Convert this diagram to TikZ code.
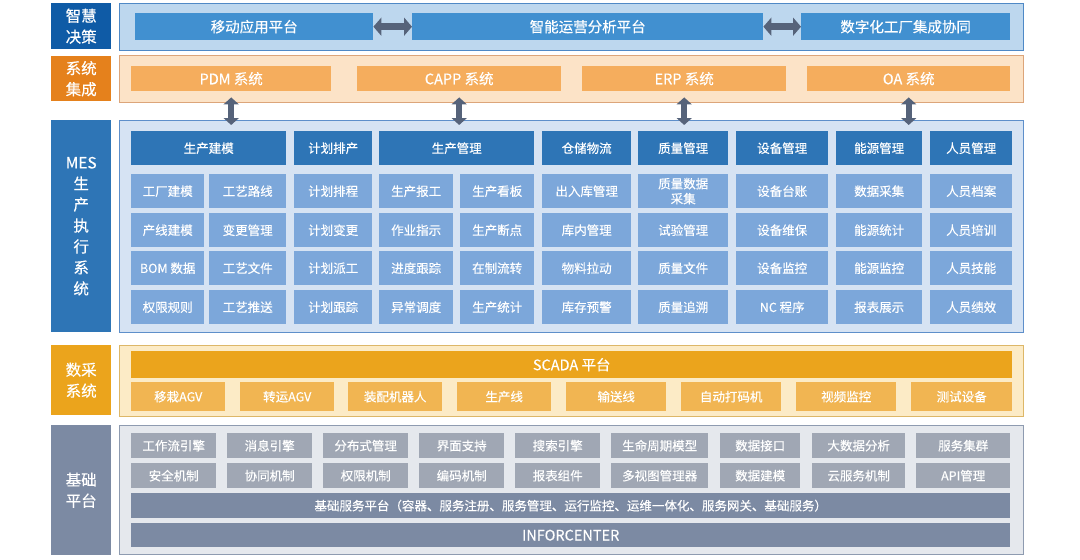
\documentclass[tikz,border=0pt]{standalone}
\usepackage{fontspec}
\setmainfont{Noto Sans CJK SC}[FakeBold=0.35]
\usepackage{tikz}
\usetikzlibrary{arrows.meta}

\definecolor{zhBlue}{HTML}{0F5BA6}
\definecolor{zhPanel}{HTML}{BDD7EE}
\definecolor{zhLine}{HTML}{4F89C6}
\definecolor{zhBox}{HTML}{4190D0}
\definecolor{jcOrange}{HTML}{E5811C}
\definecolor{jcPanel}{HTML}{FCE3C7}
\definecolor{jcLine}{HTML}{DCA57A}
\definecolor{jcBox}{HTML}{F5AD5D}
\definecolor{mesBlue}{HTML}{2E75B6}
\definecolor{mesPanel}{HTML}{D6E3F3}
\definecolor{mesLine}{HTML}{5E8FCA}
\definecolor{mesCell}{HTML}{7CA7DA}
\definecolor{scAmber}{HTML}{EBA41C}
\definecolor{scPanel}{HTML}{FCEBC6}
\definecolor{scLine}{HTML}{DDB768}
\definecolor{scBox}{HTML}{F1B552}
\definecolor{baseGray}{HTML}{7C8AA3}
\definecolor{basePanel}{HTML}{E5E8ED}
\definecolor{baseLine}{HTML}{8E9BB0}
\definecolor{baseCell}{HTML}{A0A7B4}
\definecolor{arrowGray}{HTML}{56637A}

\begin{document}
\begin{tikzpicture}[x=1pt, y=-1pt,
    sz/.style 2 args={anchor=north west, minimum width=#1pt, minimum height=#2pt},
    side/.style={text=white, inner sep=0pt, align=center, font=\fontsize{15.5}{21}\selectfont},
    panel/.style={line width=1.2pt, inner sep=0pt},
    bigbox/.style={text=white, inner sep=0pt, font=\fontsize{14.5}{17}\selectfont},
    cell/.style={text=white, inner sep=0pt, align=center, font=\fontsize{12.5}{15}\selectfont},
    dbl/.style={arrowGray, line width=7pt, >={Triangle[width=18pt,length=8pt]}, <->},
    vdbl/.style={arrowGray, line width=6pt, >={Triangle[width=15pt,length=7pt]}, <->, shorten <=6pt, shorten >=-5pt}]
    \useasboundingbox (0,0) rectangle (1080,560);

    % layer labels
    \node[side, sz={60}{46}, fill=zhBlue] (lzh) at (51,3) {智慧\\决策};
    \node[side, sz={60}{45}, fill=jcOrange] (ljc) at (51,56) {系统\\集成};
    \node[side, sz={60}{212}, fill=mesBlue] (lmes) at (51,120) {MES\\生\\产\\执\\行\\系\\统};
    \node[side, sz={60}{70}, fill=scAmber] (lsc) at (51,345) {数采\\系统};
    \node[side, sz={60}{130}, fill=baseGray] (lbase) at (51,425) {基础\\平台};

    % layer panels
    \node[panel, sz={904}{47}, fill=zhPanel, draw=zhLine] (pzh) at (119,3) {};
    \node[panel, sz={904}{47}, fill=jcPanel, draw=jcLine] (pjc) at (119,55) {};
    \node[panel, sz={904}{212}, fill=mesPanel, draw=mesLine] (pmes) at (119,120) {};
    \node[panel, sz={904}{71}, fill=scPanel, draw=scLine] (psc) at (119,345) {};
    \node[panel, sz={904}{129}, fill=basePanel, draw=baseLine] (pbase) at (119,425) {};

    % decision layer
    \node[bigbox, sz={238}{27}, fill=zhBox] (mobile) at (135,13) {移动应用平台};
    \node[bigbox, sz={351}{27}, fill=zhBox] (analysis) at (412,13) {智能运营分析平台};
    \node[bigbox, sz={209}{27}, fill=zhBox] (factory) at (801,13) {数字化工厂集成协同};
    \draw[dbl] (mobile) -- (analysis);
    \draw[dbl] (analysis) -- (factory);

    % integration layer
    \node[bigbox, sz={200}{25}, fill=jcBox] (pdm) at (131,66) {PDM 系统};
    \node[bigbox, sz={204}{25}, fill=jcBox] (capp) at (357,66) {CAPP 系统};
    \node[bigbox, sz={204}{25}, fill=jcBox] (erp) at (582,66) {ERP 系统};
    \node[bigbox, sz={203}{25}, fill=jcBox] (oa) at (807,66) {OA 系统};
    \draw[vdbl] (pdm) -- (pdm |- pmes.north);
    \draw[vdbl] (capp) -- (capp |- pmes.north);
    \draw[vdbl] (erp) -- (erp |- pmes.north);
    \draw[vdbl] (oa) -- (oa |- pmes.north);

    % MES headers
    \node[cell, sz={155}{34}, fill=mesBlue] (hmodel) at (131,131) {生产建模};
    \node[cell, sz={78}{34}, fill=mesBlue] (hplan) at (294,131) {计划排产};
    \node[cell, sz={155}{34}, fill=mesBlue] (hprod) at (379,131) {生产管理};
    \node[cell, sz={89}{34}, fill=mesBlue] (hware) at (542,131) {仓储物流};
    \node[cell, sz={90}{34}, fill=mesBlue] (hqual) at (638,131) {质量管理};
    \node[cell, sz={92}{34}, fill=mesBlue] (hequip) at (736,131) {设备管理};
    \node[cell, sz={86}{34}, fill=mesBlue] (henergy) at (836,131) {能源管理};
    \node[cell, sz={82}{34}, fill=mesBlue] (hstaff) at (930,131) {人员管理};

    % MES row 1
    \node[cell, sz={73}{34}, fill=mesCell] (m11) at (131,174) {工厂建模};
    \node[cell, sz={77}{34}, fill=mesCell] (m12) at (209,174) {工艺路线};
    \node[cell, sz={78}{34}, fill=mesCell] (m13) at (294,174) {计划排程};
    \node[cell, sz={74}{34}, fill=mesCell] (m14) at (379,174) {生产报工};
    \node[cell, sz={74}{34}, fill=mesCell] (m15) at (460,174) {生产看板};
    \node[cell, sz={89}{34}, fill=mesCell] (m16) at (542,174) {出入库管理};
    \node[cell, sz={90}{34}, fill=mesCell] (m17) at (638,174) {质量数据\\采集};
    \node[cell, sz={92}{34}, fill=mesCell] (m18) at (736,174) {设备台账};
    \node[cell, sz={86}{34}, fill=mesCell] (m19) at (836,174) {数据采集};
    \node[cell, sz={82}{34}, fill=mesCell] (m110) at (930,174) {人员档案};
    % MES row 2
    \node[cell, sz={73}{34}, fill=mesCell] (m21) at (131,213) {产线建模};
    \node[cell, sz={77}{34}, fill=mesCell] (m22) at (209,213) {变更管理};
    \node[cell, sz={78}{34}, fill=mesCell] (m23) at (294,213) {计划变更};
    \node[cell, sz={74}{34}, fill=mesCell] (m24) at (379,213) {作业指示};
    \node[cell, sz={74}{34}, fill=mesCell] (m25) at (460,213) {生产断点};
    \node[cell, sz={89}{34}, fill=mesCell] (m26) at (542,213) {库内管理};
    \node[cell, sz={90}{34}, fill=mesCell] (m27) at (638,213) {试验管理};
    \node[cell, sz={92}{34}, fill=mesCell] (m28) at (736,213) {设备维保};
    \node[cell, sz={86}{34}, fill=mesCell] (m29) at (836,213) {能源统计};
    \node[cell, sz={82}{34}, fill=mesCell] (m210) at (930,213) {人员培训};
    % MES row 3
    \node[cell, sz={73}{34}, fill=mesCell] (m31) at (131,251) {BOM 数据};
    \node[cell, sz={77}{34}, fill=mesCell] (m32) at (209,251) {工艺文件};
    \node[cell, sz={78}{34}, fill=mesCell] (m33) at (294,251) {计划派工};
    \node[cell, sz={74}{34}, fill=mesCell] (m34) at (379,251) {进度跟踪};
    \node[cell, sz={74}{34}, fill=mesCell] (m35) at (460,251) {在制流转};
    \node[cell, sz={89}{34}, fill=mesCell] (m36) at (542,251) {物料拉动};
    \node[cell, sz={90}{34}, fill=mesCell] (m37) at (638,251) {质量文件};
    \node[cell, sz={92}{34}, fill=mesCell] (m38) at (736,251) {设备监控};
    \node[cell, sz={86}{34}, fill=mesCell] (m39) at (836,251) {能源监控};
    \node[cell, sz={82}{34}, fill=mesCell] (m310) at (930,251) {人员技能};
    % MES row 4
    \node[cell, sz={73}{34}, fill=mesCell] (m41) at (131,290) {权限规则};
    \node[cell, sz={77}{34}, fill=mesCell] (m42) at (209,290) {工艺推送};
    \node[cell, sz={78}{34}, fill=mesCell] (m43) at (294,290) {计划跟踪};
    \node[cell, sz={74}{34}, fill=mesCell] (m44) at (379,290) {异常调度};
    \node[cell, sz={74}{34}, fill=mesCell] (m45) at (460,290) {生产统计};
    \node[cell, sz={89}{34}, fill=mesCell] (m46) at (542,290) {库存预警};
    \node[cell, sz={90}{34}, fill=mesCell] (m47) at (638,290) {质量追溯};
    \node[cell, sz={92}{34}, fill=mesCell] (m48) at (736,290) {NC 程序};
    \node[cell, sz={86}{34}, fill=mesCell] (m49) at (836,290) {报表展示};
    \node[cell, sz={82}{34}, fill=mesCell] (m410) at (930,290) {人员绩效};

    % data acquisition layer
    \node[bigbox, sz={881}{27}, fill=scAmber] (scada) at (131,351) {SCADA 平台};
    \node[cell, sz={94}{29}, fill=scBox] (d1) at (131,382) {移栽AGV};
    \node[cell, sz={94}{29}, fill=scBox] (d2) at (240,382) {转运AGV};
    \node[cell, sz={94}{29}, fill=scBox] (d3) at (348,382) {装配机器人};
    \node[cell, sz={94}{29}, fill=scBox] (d4) at (457,382) {生产线};
    \node[cell, sz={100}{29}, fill=scBox] (d5) at (566,382) {输送线};
    \node[cell, sz={100}{29}, fill=scBox] (d6) at (681,382) {自动打码机};
    \node[cell, sz={100}{29}, fill=scBox] (d7) at (796,382) {视频监控};
    \node[cell, sz={101}{29}, fill=scBox] (d8) at (911,382) {测试设备};

    % base platform, row 1
    \node[cell, sz={85}{25}, fill=baseCell] (b11) at (131,433) {工作流引擎};
    \node[cell, sz={85}{25}, fill=baseCell] (b12) at (227,433) {消息引擎};
    \node[cell, sz={85}{25}, fill=baseCell] (b13) at (323,433) {分布式管理};
    \node[cell, sz={85}{25}, fill=baseCell] (b14) at (419,433) {界面支持};
    \node[cell, sz={85}{25}, fill=baseCell] (b15) at (515,433) {搜索引擎};
    \node[cell, sz={97}{25}, fill=baseCell] (b16) at (611,433) {生命周期模型};
    \node[cell, sz={80}{25}, fill=baseCell] (b17) at (720,433) {数据接口};
    \node[cell, sz={93}{25}, fill=baseCell] (b18) at (812,433) {大数据分析};
    \node[cell, sz={94}{25}, fill=baseCell] (b19) at (916,433) {服务集群};
    % base platform, row 2
    \node[cell, sz={85}{25}, fill=baseCell] (b21) at (131,463) {安全机制};
    \node[cell, sz={85}{25}, fill=baseCell] (b22) at (227,463) {协同机制};
    \node[cell, sz={85}{25}, fill=baseCell] (b23) at (323,463) {权限机制};
    \node[cell, sz={85}{25}, fill=baseCell] (b24) at (419,463) {编码机制};
    \node[cell, sz={85}{25}, fill=baseCell] (b25) at (515,463) {报表组件};
    \node[cell, sz={97}{25}, fill=baseCell] (b26) at (611,463) {多视图管理器};
    \node[cell, sz={80}{25}, fill=baseCell] (b27) at (720,463) {数据建模};
    \node[cell, sz={93}{25}, fill=baseCell] (b28) at (812,463) {云服务机制};
    \node[cell, sz={94}{25}, fill=baseCell] (b29) at (916,463) {API管理};
    \node[cell, sz={879}{25}, fill=baseGray] (service) at (131,493) {基础服务平台（容器、服务注册、服务管理、运行监控、运维一体化、服务网关、基础服务）};
    \node[bigbox, sz={879}{24}, fill=baseGray] (center) at (131,523) {INFORCENTER};
\end{tikzpicture}
\end{document}
